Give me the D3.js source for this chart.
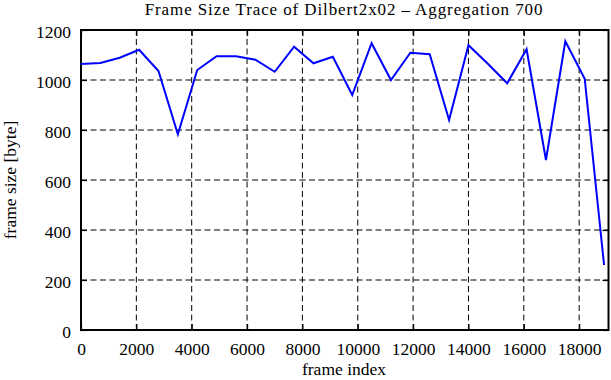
<!DOCTYPE html>
<html>
<head>
<meta charset="utf-8">
<script src="https://cdn.jsdelivr.net/npm/d3@7"></script>
<style>
  body { margin: 0; background: #fff; }
  text { font-family: "Liberation Serif", "DejaVu Serif", serif; fill: #000; }
</style>
</head>
<body>
<div id="graph"></div>
<script>
"use strict";

// frame index (step 700) and aggregated frame size
var frameIndex = [0, 700, 1400, 2100, 2800, 3500, 4200, 4900, 5600, 6300, 7000, 7700, 8400, 9100,
    9800, 10500, 11200, 11900, 12600, 13300, 14000, 14700, 15400, 16100, 16800, 17500, 18200, 18900];
var frameSize = [1064, 1068, 1089, 1121, 1036, 783, 1040, 1095, 1095, 1081, 1033, 1133, 1067, 1093,
    940, 1147, 1000, 1109, 1103, 840, 1139, 1065, 987, 1123, 680, 1155, 1005, 260];
var xTicks = [0, 2000, 4000, 6000, 8000, 10000, 12000, 14000, 16000, 18000];
var yTicks = [0, 200, 400, 600, 800, 1000, 1200];

var width = 611, height = 380;
var margin = {top: 30, left: 81, bottom: 50, right: 2.5};
var fontSize = 17.5;

var svg = d3.select("#graph").append("svg")
    .attr("width", width)
    .attr("height", height);

var x = d3.scaleLinear().domain([0, 19060]).range([margin.left, width - margin.right]);
var y = d3.scaleLinear().domain([0, 1200]).range([height - margin.bottom, margin.top]);

// grid
var grid = svg.append("g").attr("class", "grid");
grid.selectAll("line.v")
    .data(xTicks.slice(1))
    .enter().append("line")
    .attr("x1", function (d) { return x(d); })
    .attr("x2", function (d) { return x(d); })
    .attr("y1", y(0))
    .attr("y2", y(1200))
    .attr("stroke", "#000")
    .attr("stroke-width", 1)
    .attr("stroke-dasharray", "6,3.5");
grid.selectAll("line.h")
    .data(yTicks.slice(1, -1))
    .enter().append("line")
    .attr("x1", x.range()[0])
    .attr("x2", x.range()[1])
    .attr("y1", function (d) { return y(d); })
    .attr("y2", function (d) { return y(d); })
    .attr("stroke", "#000")
    .attr("stroke-width", 1)
    .attr("stroke-dasharray", "6,3.5");

// axes with inward ticks
var fmt = d3.format("d");
var bottomAxis = svg.append("g")
    .attr("transform", "translate(0," + y(0) + ")")
    .call(d3.axisBottom(x).tickValues(xTicks).tickFormat(fmt).tickSizeInner(-6).tickSizeOuter(0).tickPadding(13));
var leftAxis = svg.append("g")
    .attr("transform", "translate(" + x(0) + ",0)")
    .call(d3.axisLeft(y).tickValues(yTicks).tickFormat(fmt).tickSizeInner(-6).tickSizeOuter(0).tickPadding(10));
var topAxis = svg.append("g")
    .attr("transform", "translate(0," + y(1200) + ")")
    .call(d3.axisTop(x).tickValues(xTicks).tickSizeInner(-6).tickSizeOuter(0).tickFormat(""));
var rightAxis = svg.append("g")
    .attr("transform", "translate(" + x.range()[1] + ",0)")
    .call(d3.axisRight(y).tickValues(yTicks).tickSizeInner(-6).tickSizeOuter(0).tickFormat(""));

[bottomAxis, leftAxis, topAxis, rightAxis].forEach(function (a) {
    a.select(".domain").remove();
    a.selectAll(".tick line").attr("stroke", "#000").attr("stroke-width", 1.2);
    a.selectAll(".tick text")
        .attr("font-family", "Liberation Serif, DejaVu Serif, serif")
        .attr("font-size", fontSize)
        .attr("fill", "#000");
});
leftAxis.selectAll(".tick text").attr("dy", "0.42em");

// frame
svg.append("rect")
    .attr("x", x.range()[0])
    .attr("y", y(1200))
    .attr("width", x.range()[1] - x.range()[0])
    .attr("height", y(0) - y(1200))
    .attr("fill", "none")
    .attr("stroke", "#000")
    .attr("stroke-width", 2);

// data line
var line = d3.line()
    .x(function (d, i) { return x(frameIndex[i]); })
    .y(function (d) { return y(d); });

svg.append("path")
    .datum(frameSize)
    .attr("d", line)
    .attr("fill", "none")
    .attr("stroke", "#0000ff")
    .attr("stroke-width", 2);

// labels
svg.append("text")
    .attr("x", 344)
    .attr("y", 15)
    .attr("text-anchor", "middle")
    .attr("font-size", 17)
    .attr("letter-spacing", 0.9)
    .text("Frame Size Trace of Dilbert2x02 \u2013 Aggregation 700");

svg.append("text")
    .attr("x", 344)
    .attr("y", 375)
    .attr("text-anchor", "middle")
    .attr("font-size", fontSize)
    .text("frame index");

svg.append("text")
    .attr("transform", "translate(16," + (y(600)) + ") rotate(-90)")
    .attr("text-anchor", "middle")
    .attr("font-size", fontSize)
    .text("frame size [byte]");
</script>
</body>
</html>
